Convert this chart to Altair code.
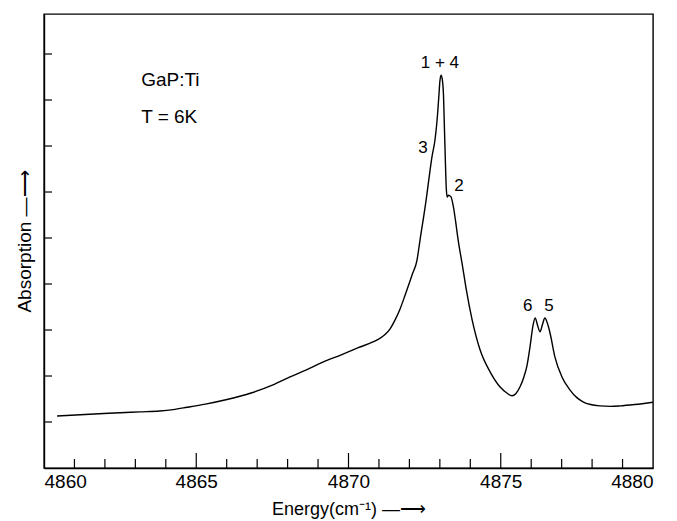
import altair as alt
import pandas as pd

# Spectrum (energy in cm^-1, absorption in arbitrary units)
energy = [4860.43, 4861.50, 4862.50, 4863.15, 4863.80, 4864.24, 4864.70, 4865.30,
          4866.01, 4866.80, 4867.50, 4868.08, 4868.60, 4869.16, 4869.80, 4870.30,
          4870.80, 4871.03, 4871.20, 4871.36, 4871.53, 4871.70, 4871.86, 4872.09,
          4872.25, 4872.35, 4872.55, 4872.68, 4872.74, 4872.84, 4872.91, 4872.97,
          4873.00, 4873.04, 4873.08, 4873.12, 4873.15, 4873.18, 4873.21, 4873.24,
          4873.28, 4873.36, 4873.44, 4873.52, 4873.60, 4873.73, 4873.87, 4874.06,
          4874.32, 4874.65, 4874.98, 4875.20, 4875.37, 4875.50, 4875.63, 4875.76,
          4875.86, 4875.96, 4876.06, 4876.13, 4876.21, 4876.29, 4876.37, 4876.45,
          4876.53, 4876.62, 4876.78, 4877.01, 4877.27, 4877.50, 4877.70, 4877.95,
          4878.26, 4878.60, 4878.92, 4879.40, 4880.00]
absorption = [1.13, 1.17, 1.20, 1.22, 1.24, 1.27, 1.32, 1.39,
              1.49, 1.63, 1.80, 1.98, 2.13, 2.30, 2.47, 2.61,
              2.74, 2.82, 2.90, 3.02, 3.22, 3.47, 3.76, 4.20,
              4.52, 4.96, 5.83, 6.48, 6.76, 7.13, 7.57, 8.11,
              8.40, 8.54, 8.45, 8.10, 7.40, 6.70, 6.10, 5.89,
              5.93, 5.90, 5.70, 5.35, 4.96, 4.45, 3.87, 3.22,
              2.57, 2.09, 1.76, 1.63, 1.57, 1.62, 1.76, 1.98,
              2.22, 2.63, 3.10, 3.26, 3.10, 2.96, 3.12, 3.26,
              3.15, 2.93, 2.41, 1.98, 1.70, 1.53, 1.44, 1.38,
              1.35, 1.34, 1.35, 1.38, 1.43]

# Peak labels
peak_labels = ["1 + 4", "3", "2", "6", "5"]
peak_e = [4873.0, 4872.45, 4873.63, 4875.89, 4876.58]
peak_a = [8.80, 6.96, 6.13, 3.52, 3.52]

# Sample annotation
info_labels = ["GaP:Ti", "T = 6K"]
info_e = [4863.19, 4863.19]
info_a = [8.43, 7.63]

# Axis ticks
x_major = [4860, 4865, 4870, 4875, 4880]
x_minor = [v for v in range(4861, 4880) if v % 5 != 0]
x_major_inner = [4865, 4870, 4875]
y_ticks = [1, 2, 3, 4, 5, 6, 7, 8, 9]

W, H = 609, 454
FONT = "Liberation Sans"
ARROW = " \u2014\u27f6"

xs = alt.Scale(domain=[4860, 4880], nice=False, zero=False)
ys = alt.Scale(domain=[0, 9.87], nice=False, zero=False)

spec_df = pd.DataFrame({"E": energy, "A": absorption})
line = alt.Chart(spec_df).mark_line(color="black", strokeWidth=1.4,
                                    interpolate="monotone").encode(
    x=alt.X("E:Q", scale=xs, axis=alt.Axis(
        values=x_major, format="d", ticks=False, grid=False,
        labelFontSize=19, labelColor="black", labelFont=FONT, labelPadding=4,
        domainColor="black", domainWidth=1.4,
        title="Energy(cm\u207b\u00b9)" + ARROW, titleFont=FONT, titleFontSize=18,
        titleFontWeight="normal", titleColor="black", titlePadding=9)),
    y=alt.Y("A:Q", scale=ys, axis=alt.Axis(
        labels=False, ticks=False, grid=False,
        domainColor="black", domainWidth=1.4,
        title="Absorption" + ARROW, titleFont=FONT, titleFontSize=19,
        titleFontWeight="normal", titleColor="black", titlePadding=10)),
    order="E:Q",
)

minor_df = pd.DataFrame({"E": x_minor})
minor = alt.Chart(minor_df).mark_rule(color="black", strokeWidth=1.2).encode(
    x=alt.X("E:Q", scale=xs),
    y=alt.value(H), y2=alt.value(H - 9),
)
major_df = pd.DataFrame({"E": x_major_inner})
major = alt.Chart(major_df).mark_rule(color="black", strokeWidth=1.2).encode(
    x=alt.X("E:Q", scale=xs),
    y=alt.value(H), y2=alt.value(H - 15),
)
yt_df = pd.DataFrame({"A": y_ticks})
yticks = alt.Chart(yt_df).mark_rule(color="black", strokeWidth=1.2).encode(
    y=alt.Y("A:Q", scale=ys),
    x=alt.value(0), x2=alt.value(8),
)

pk_df = pd.DataFrame({"label": peak_labels, "E": peak_e, "A": peak_a})
pk = alt.Chart(pk_df).mark_text(fontSize=17, font=FONT, color="black",
                                align="center", baseline="middle").encode(
    x=alt.X("E:Q", scale=xs),
    y=alt.Y("A:Q", scale=ys),
    text="label:N",
)
info_df = pd.DataFrame({"label": info_labels, "E": info_e, "A": info_a})
info = alt.Chart(info_df).mark_text(fontSize=19, font=FONT, color="black",
                                    align="left", baseline="middle").encode(
    x=alt.X("E:Q", scale=xs),
    y=alt.Y("A:Q", scale=ys),
    text="label:N",
)

chart = alt.layer(line, minor, major, yticks, pk, info).properties(
    width=W, height=H,
    autosize=alt.AutoSizeParams(type="none"),
    padding={"left": 44, "top": 14, "right": 24, "bottom": 53},
    background="white",
).configure_view(stroke="black", strokeWidth=1.4)

chart.save("out.html", embed_options={"renderer": "svg", "actions": False})
